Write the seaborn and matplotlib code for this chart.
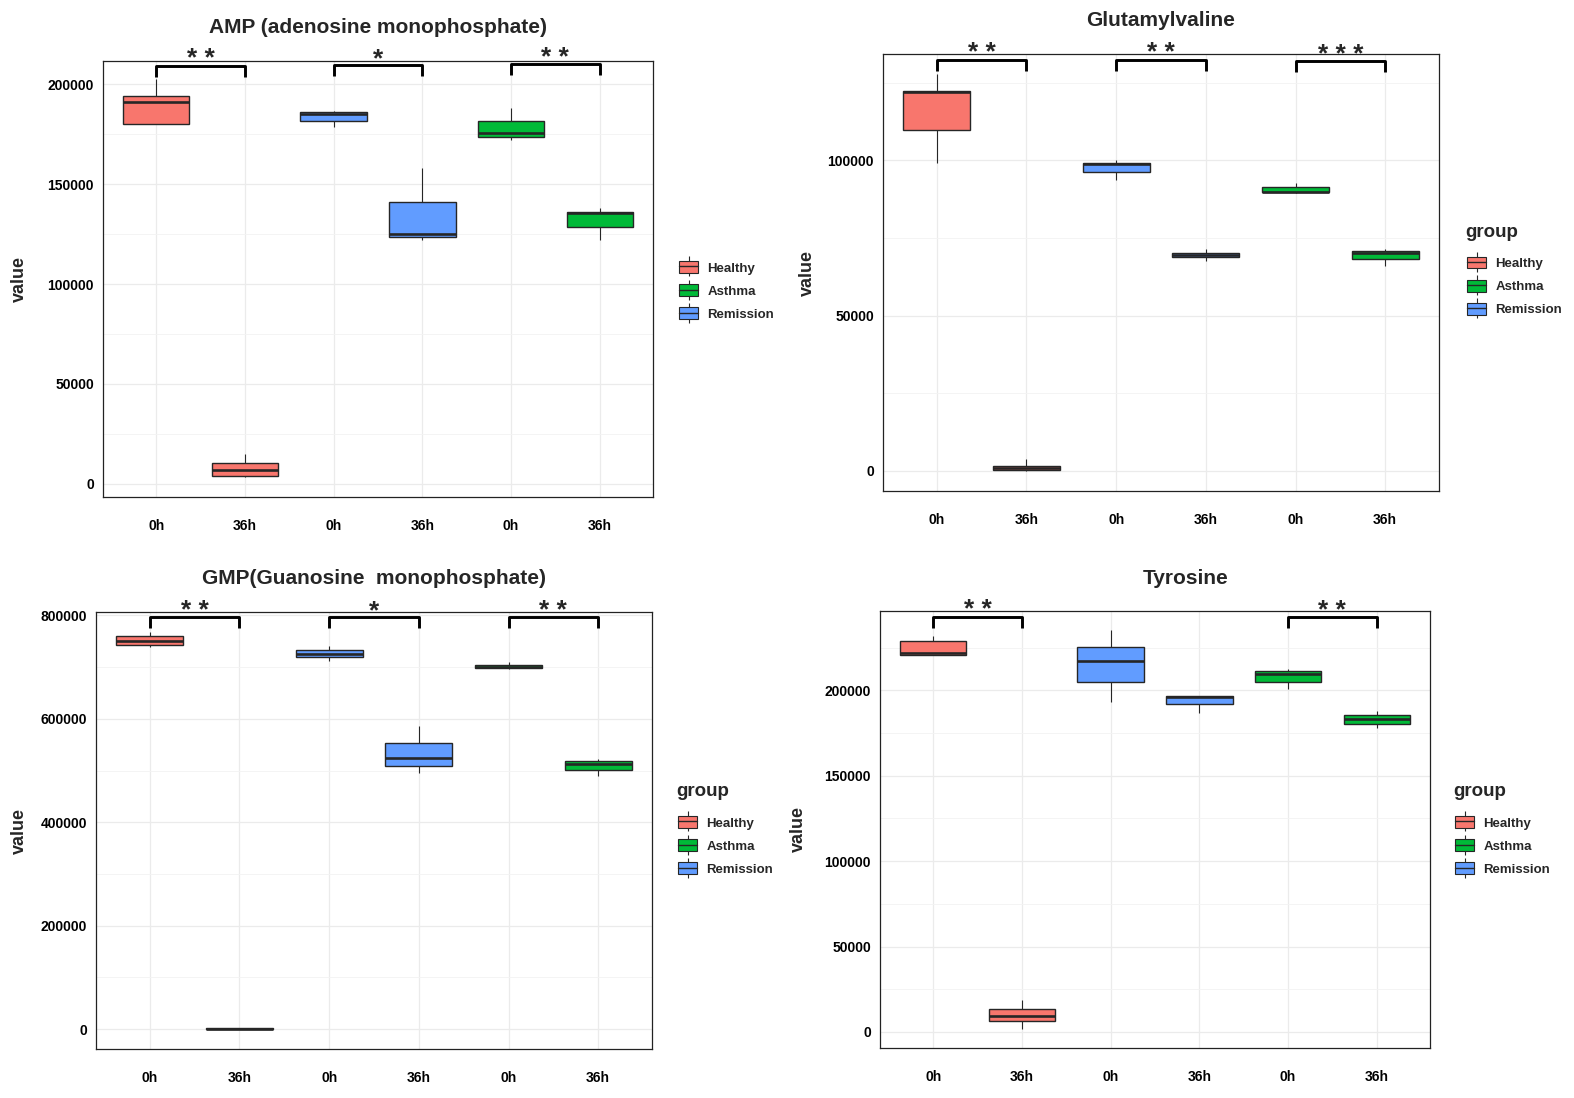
import pandas as pd
import matplotlib
matplotlib.use("Agg")
import matplotlib.pyplot as plt
import seaborn as sns
from matplotlib.patches import Patch
from matplotlib.lines import Line2D
from matplotlib.legend_handler import HandlerTuple
from matplotlib.ticker import MultipleLocator

# box order along the x axis
boxes = ["Healthy_0h", "Healthy_36h", "Remission_0h", "Remission_36h", "Asthma_0h", "Asthma_36h"]
box_groups = ["Healthy", "Healthy", "Remission", "Remission", "Asthma", "Asthma"]
tick_labels = ["0h", "36h", "0h", "36h", "0h", "36h"]
legend_groups = ["Healthy", "Asthma", "Remission"]
colors = {"Healthy": "#F8766D", "Asthma": "#00BA38", "Remission": "#619CFF"}

# five values per box (min, q1, median, q3, max)
amp = [
    [180400, 180400, 191100, 194200, 202600],
    [3100, 3800, 6900, 10100, 14600],
    [178500, 181800, 185400, 186300, 186500],
    [122100, 123400, 125000, 141300, 157900],
    [172200, 173700, 175600, 181800, 188000],
    [122100, 128400, 135600, 136100, 137900],
]
glu = [
    [99200, 109900, 122100, 122300, 127900],
    [100, 220, 880, 1440, 3650],
    [93700, 96100, 98700, 99300, 100100],
    [67700, 68840, 69390, 70050, 71400],
    [89600, 89700, 89950, 91400, 92800],
    [66100, 68200, 70300, 70700, 71300],
]
gmp = [
    [739000, 742500, 749750, 761000, 767000],
    [300, 800, 1200, 1700, 2500],
    [712700, 719300, 725300, 732600, 741200],
    [495900, 509100, 523600, 553400, 585800],
    [696900, 698200, 700800, 703500, 709400],
    [488600, 501800, 513100, 518300, 522300],
]
tyr = [
    [220600, 220600, 222000, 228900, 231700],
    [2000, 6400, 9600, 13400, 19000],
    [193000, 205000, 217000, 225450, 235100],
    [186800, 192000, 196400, 196800, 196800],
    [200600, 204800, 209400, 211400, 212800],
    [178000, 180200, 183200, 185800, 188000],
]

# significance brackets: (first box, second box, height, label)
amp_sig = [(0, 1, 209300, "* *"), (2, 3, 209500, "*"), (4, 5, 210000, "* *")]
glu_sig = [(0, 1, 132400, "* *"), (2, 3, 132400, "* *"), (4, 5, 132000, "* * *")]
gmp_sig = [(0, 1, 796000, "* *"), (2, 3, 796000, "*"), (4, 5, 796000, "* *")]
tyr_sig = [(0, 1, 243100, "* *"), (4, 5, 243000, "* *")]

sns.set_style("white")
plt.rcParams["font.family"] = ["Liberation Sans", "DejaVu Sans"]

W, H = 1574, 1098
fig = plt.figure(figsize=(W / 100, H / 100), dpi=100)


def px_rect(l, t, r, b):
    return [l / W, 1 - b / H, (r - l) / W, (b - t) / H]


panels = [
    dict(vals=amp, sig=amp_sig, title="AMP (adenosine monophosphate)", rect=(103, 60.5, 653, 497),
         ylim=(-6700, 212000), major=50000, title_x=0.5, ylab_x=-0.152,
         leg=(679, 291), leg_title=None),
    dict(vals=glu, sig=glu_sig, title="Glutamylvaline", rect=(883, 54, 1439, 491),
         ylim=(-6500, 134250), major=50000, title_x=0.5, ylab_x=-0.136,
         leg=(1467, 286.5), leg_title="group"),
    dict(vals=gmp, sig=gmp_sig, title="GMP(Guanosine  monophosphate)", rect=(96, 612, 652, 1049),
         ylim=(-38300, 806600), major=200000, title_x=0.5, ylab_x=-0.137,
         leg=(678, 846), leg_title="group"),
    dict(vals=tyr, sig=tyr_sig, title="Tyrosine", rect=(880, 611, 1430, 1048),
         ylim=(-9400, 246500), major=50000, title_x=0.556, ylab_x=-0.148,
         leg=(1455, 846), leg_title="group"),
]

for p in panels:
    rows = []
    for name, grp, vals in zip(boxes, box_groups, p["vals"]):
        for v in vals:
            rows.append({"cond": name, "group": grp, "value": v})
    df = pd.DataFrame(rows)

    ax = fig.add_axes(px_rect(*p["rect"]))
    sns.boxplot(data=df, x="cond", y="value", hue="group", order=boxes,
                palette=colors, saturation=1, width=0.75, dodge=False,
                whis=(0, 100), linecolor="#262626", linewidth=1.0,
                showcaps=False, medianprops=dict(linewidth=1.9),
                whiskerprops=dict(linewidth=0.8), legend=False, ax=ax)

    ax.set_xlim(-0.6, 5.6)
    ax.set_ylim(*p["ylim"])
    ax.set_xticks(range(len(boxes)))
    ax.set_xticklabels(tick_labels)
    ax.yaxis.set_major_locator(MultipleLocator(p["major"]))
    ax.yaxis.set_minor_locator(MultipleLocator(p["major"] / 2))
    ax.yaxis.set_major_formatter(matplotlib.ticker.FuncFormatter(lambda v, _: f"{int(round(v))}"))
    ax.set_axisbelow(True)
    ax.grid(True, which="major", color="#EBEBEB", linewidth=0.9)
    ax.yaxis.grid(True, which="minor", color="#F3F3F3", linewidth=0.6)
    ax.tick_params(axis="both", which="major", length=3.5, width=0.8, color="#333333",
                   labelsize=10, labelcolor="black")
    ax.tick_params(axis="x", which="major", pad=12)
    ax.tick_params(axis="y", which="major", pad=3)
    ax.tick_params(which="minor", length=0)
    for lab in ax.get_xticklabels() + ax.get_yticklabels():
        lab.set_fontweight("bold")
    for s in ax.spines.values():
        s.set_visible(True)
        s.set_color("#222222")
        s.set_linewidth(0.9)

    ax.set_xlabel("")
    ax.set_ylabel("value", fontsize=13, fontweight="bold", va="center")
    ax.yaxis.set_label_coords(p["ylab_x"], 0.5)

    ax.text(p["title_x"], 1 + 33 / 437, p["title"], transform=ax.transAxes,
            ha="center", va="center", fontsize=15, fontweight="bold")

    ymin, ymax = p["ylim"]
    leg_drop = 0.025 * (ymax - ymin)
    for x1, x2, y, lab in p["sig"]:
        ax.plot([x1, x1, x2, x2], [y - leg_drop, y, y, y - leg_drop], color="black",
                linewidth=2.1, solid_capstyle="butt", clip_on=False, zorder=5)
        ax.annotate(lab, xy=((x1 + x2) / 2, y), xytext=(0, -4), textcoords="offset points",
                    ha="center", va="bottom", fontsize=19, fontweight="bold",
                    annotation_clip=False)

    handles = []
    for g in legend_groups:
        handles.append((
            Line2D([], [], linestyle="none", marker="|", markersize=14,
                   markeredgewidth=0.8, color="#262626"),
            Patch(facecolor=colors[g], edgecolor="#262626", linewidth=0.8),
            Line2D([], [], color="#262626", linewidth=1.0),
        ))
    lx, ly = p["leg"]
    ax.legend(handles, legend_groups, loc="center left",
              bbox_to_anchor=(lx / W, 1 - ly / H), bbox_transform=fig.transFigure,
              frameon=False, borderpad=0, borderaxespad=0, numpoints=1,
              handler_map={tuple: HandlerTuple(ndivide=1, pad=0)},
              handlelength=1.45, handleheight=1.0, handletextpad=0.7,
              labelspacing=0.74, prop={"size": 9.5, "weight": "bold"})
    if p["leg_title"]:
        fig.text((lx - 2) / W, 1 - (ly - 54) / H, p["leg_title"], ha="left", va="center",
                 fontsize=13.5, fontweight="bold")

fig.savefig("out.png", dpi=100)
